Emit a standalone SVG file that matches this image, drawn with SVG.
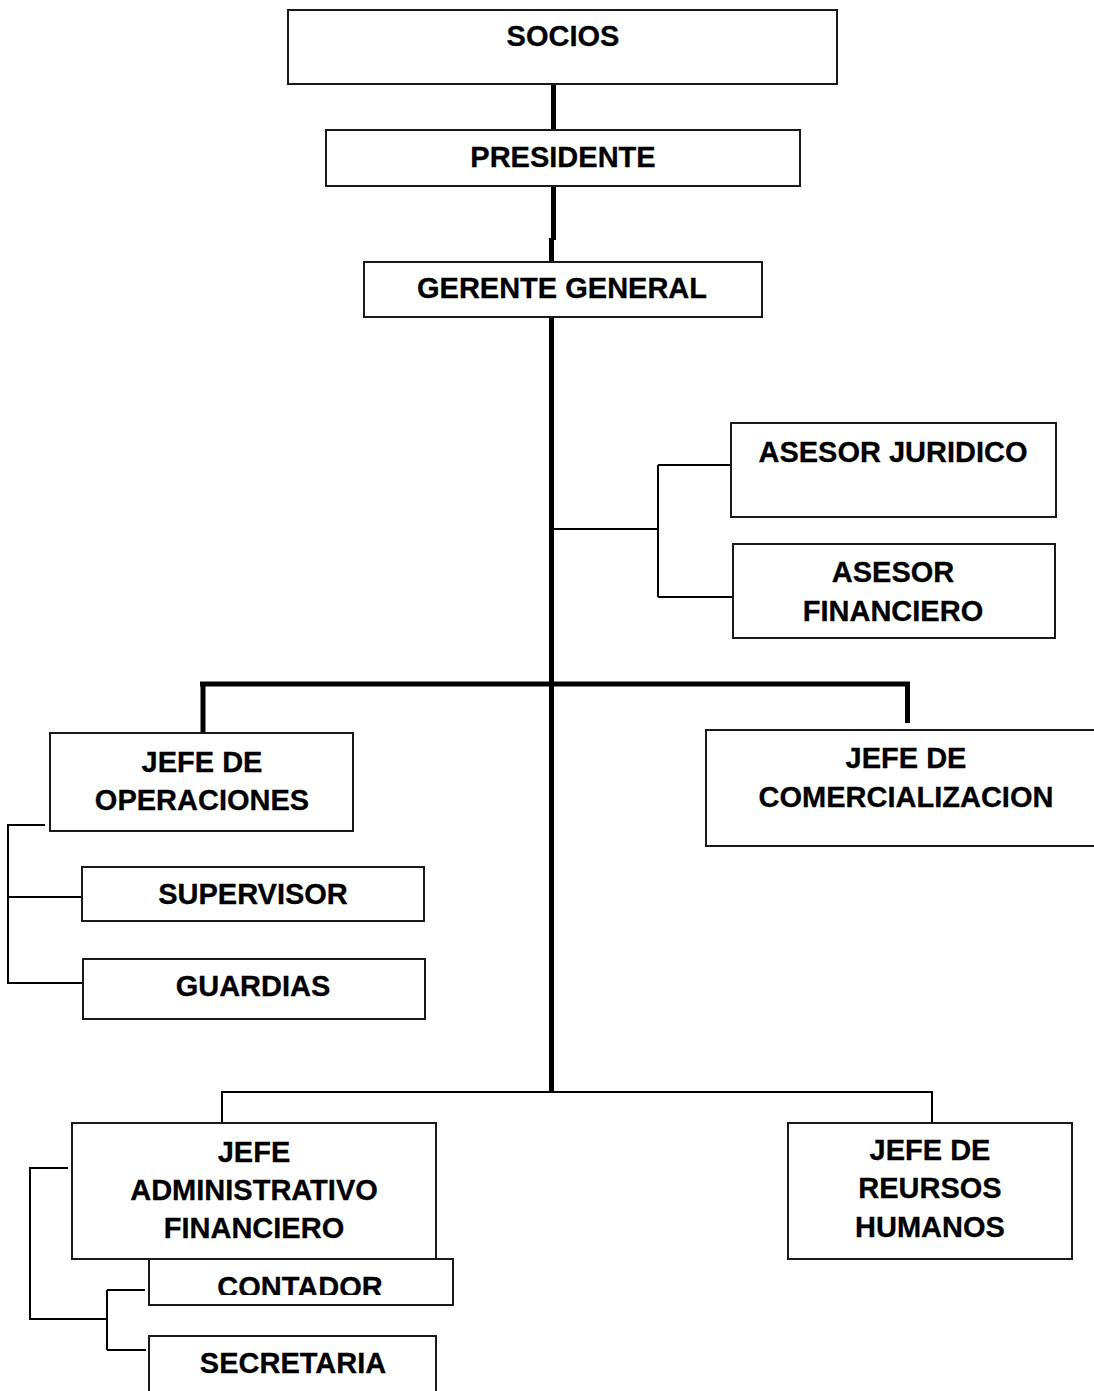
<svg xmlns="http://www.w3.org/2000/svg" width="1094" height="1391" viewBox="0 0 1094 1391">
<style>
.box{fill:#fff;stroke:#1a1a1a;stroke-width:2}
.t{font-family:"Liberation Sans",Arial,sans-serif;font-weight:bold;font-size:29px;fill:#000;stroke:#000;stroke-width:0.3px;text-anchor:middle}
.thick{fill:none;stroke:#000;stroke-width:5}
.thin{fill:none;stroke:#000;stroke-width:2}
</style>
<defs>
<clipPath id="clipContador"><rect x="149" y="1259" width="305" height="36"/></clipPath>
</defs>
<rect width="1094" height="1391" fill="#fff"/>
<g id="connectors">
<path class="thick" d="M553.5 84V131"/>
<path class="thick" d="M553.5 187V240"/>
<path class="thick" d="M551.5 238V262"/>
<path class="thick" d="M551.5 318V1093"/>
<path class="thick" d="M200 684H910M203 684V732M907.5 684V723"/>
<path class="thin" d="M551 529H658M658 465V597M658 465H731M658 597H733"/>
<path class="thin" d="M222 1123V1092H932V1123"/>
<path class="thin" d="M45 825H8V983H82M8 897H82"/>
<path class="thin" d="M68 1168H30V1319H107M107 1290V1350M107 1290H145M107 1350H146"/>
</g>
<g id="socios"><rect class="box" x="288" y="10" width="549" height="74"/><text class="t" x="563" y="46">SOCIOS</text></g>
<g id="presidente"><rect class="box" x="326" y="130" width="474" height="56"/><text class="t" x="563" y="167">PRESIDENTE</text></g>
<g id="gerente"><rect class="box" x="364" y="262" width="398" height="55"/><text class="t" x="562" y="298">GERENTE GENERAL</text></g>
<g id="asesor-juridico"><rect class="box" x="731" y="423" width="325" height="94"/><text class="t" x="893" y="462">ASESOR JURIDICO</text></g>
<g id="asesor-financiero"><rect class="box" x="733" y="544" width="322" height="94"/><text class="t" x="893" y="582">ASESOR</text><text class="t" x="893" y="621">FINANCIERO</text></g>
<g id="jefe-operaciones"><rect class="box" x="50" y="733" width="303" height="98"/><text class="t" x="202" y="772">JEFE DE</text><text class="t" x="202" y="810">OPERACIONES</text></g>
<g id="jefe-comercializacion"><rect class="box" x="706" y="730" width="400" height="116"/><text class="t" x="906" y="768">JEFE DE</text><text class="t" x="906" y="807">COMERCIALIZACION</text></g>
<g id="supervisor"><rect class="box" x="82" y="867" width="342" height="54"/><text class="t" x="253" y="904">SUPERVISOR</text></g>
<g id="guardias"><rect class="box" x="83" y="959" width="342" height="60"/><text class="t" x="253" y="996">GUARDIAS</text></g>
<g id="jefe-administrativo"><rect class="box" x="72" y="1123" width="364" height="136"/><text class="t" x="254" y="1162">JEFE</text><text class="t" x="254" y="1200">ADMINISTRATIVO</text><text class="t" x="254" y="1238">FINANCIERO</text></g>
<g id="jefe-rrhh"><rect class="box" x="788" y="1123" width="284" height="136"/><text class="t" x="930" y="1160">JEFE DE</text><text class="t" x="930" y="1198">REURSOS</text><text class="t" x="930" y="1237">HUMANOS</text></g>
<g id="contador"><rect class="box" x="149" y="1259" width="304" height="46"/><text class="t" x="300" y="1297" clip-path="url(#clipContador)">CONTADOR</text></g>
<g id="secretaria"><rect class="box" x="149" y="1336" width="287" height="70"/><text class="t" x="293" y="1373">SECRETARIA</text></g>
</svg>
